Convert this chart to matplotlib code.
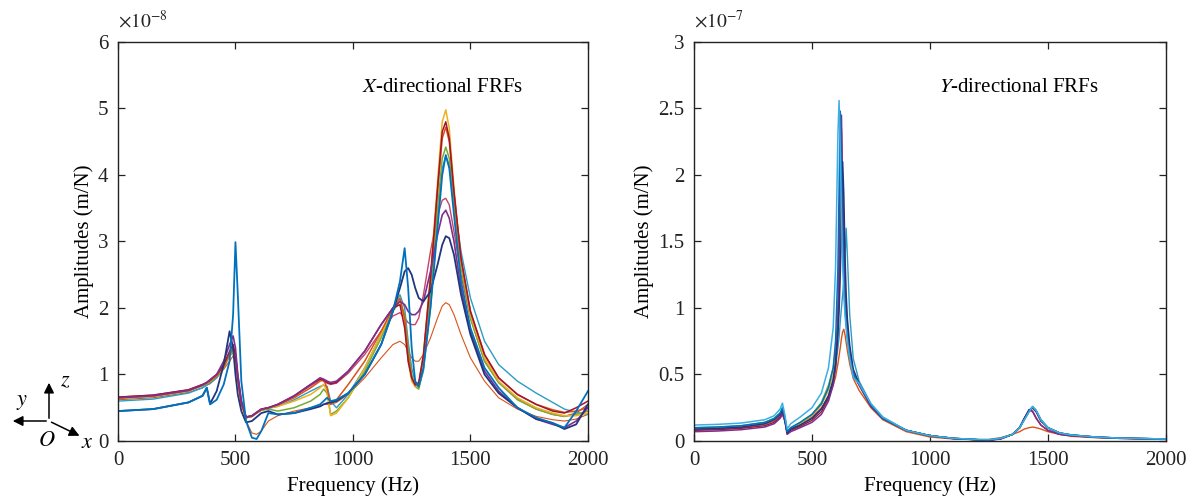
import matplotlib
matplotlib.use("Agg")
import matplotlib.pyplot as plt
from matplotlib.patches import FancyArrowPatch
from matplotlib.ticker import FuncFormatter

plt.rcParams["font.family"] = ["Liberation Serif", "DejaVu Serif"]
plt.rcParams["mathtext.fontset"] = "stix"

# ---------------- X-directional FRFs (values x 1e-8 m/N) ----------------
freq_x = [0, 150, 300, 360, 378, 392, 420, 450, 475, 490,
          500, 510, 525, 545, 570, 590, 610, 640, 680, 750,
          820, 860, 875, 890, 905, 930, 980, 1050, 1120, 1170,
          1200, 1220, 1235, 1250, 1265, 1280, 1300, 1330, 1360, 1380,
          1395, 1410, 1430, 1460, 1500, 1560, 1620, 1700, 1780, 1850,
          1900, 1950, 2000]

x_orange_thin = [0.62, 0.65, 0.73, 0.80, 0.84, 0.86, 0.95, 1.08, 1.20, 1.28,
                 1.20, 0.95, 0.60, 0.30, 0.12, 0.10, 0.15, 0.30, 0.38, 0.45,
                 0.50, 0.53, 0.55, 0.55, 0.55, 0.58, 0.70, 0.95, 1.25, 1.45,
                 1.50, 1.45, 1.35, 1.25, 1.20, 1.20, 1.30, 1.55, 1.85, 2.03,
                 2.08, 2.05, 1.90, 1.60, 1.25, 0.90, 0.65, 0.48, 0.37, 0.32,
                 0.30, 0.33, 0.40]
x_pink = [0.66, 0.69, 0.77, 0.85, 0.88, 0.92, 1.00, 1.13, 1.30, 1.40,
          1.30, 0.95, 0.58, 0.35, 0.37, 0.42, 0.47, 0.50, 0.55, 0.67,
          0.83, 0.92, 0.90, 0.87, 0.85, 0.87, 1.02, 1.30, 1.65, 1.88,
          1.93, 1.85, 1.78, 1.75, 1.75, 1.85, 2.20, 2.85, 3.40, 3.62,
          3.65, 3.55, 3.15, 2.50, 1.85, 1.20, 0.88, 0.63, 0.48, 0.40,
          0.37, 0.42, 0.55]
x_teal = [0.60, 0.63, 0.72, 0.80, 0.84, 0.87, 0.95, 1.10, 1.30, 1.40,
          1.30, 1.00, 0.62, 0.36, 0.38, 0.43, 0.47, 0.49, 0.52, 0.62,
          0.75, 0.82, 0.84, 0.82, 0.60, 0.50, 0.70, 1.10, 1.60, 2.00,
          2.20, 2.00, 1.50, 1.10, 0.88, 0.80, 1.05, 2.00, 3.30, 4.10,
          4.28, 4.15, 3.60, 2.85, 2.15, 1.50, 1.15, 0.90, 0.72, 0.58,
          0.48, 0.43, 0.40]
x_green = [0.64, 0.67, 0.75, 0.83, 0.86, 0.89, 0.97, 1.10, 1.28, 1.33,
           1.20, 0.90, 0.55, 0.35, 0.37, 0.42, 0.46, 0.48, 0.45, 0.50,
           0.60, 0.70, 0.78, 0.72, 0.40, 0.45, 0.65, 1.05, 1.55, 1.95,
           2.10, 1.90, 1.40, 1.00, 0.82, 0.78, 1.10, 2.20, 3.50, 4.25,
           4.42, 4.25, 3.55, 2.60, 1.85, 1.20, 0.88, 0.62, 0.48, 0.40,
           0.37, 0.40, 0.45]
x_yellow = [0.65, 0.68, 0.76, 0.84, 0.87, 0.90, 0.98, 1.12, 1.30, 1.35,
            1.20, 0.90, 0.55, 0.35, 0.37, 0.42, 0.47, 0.50, 0.52, 0.60,
            0.70, 0.80, 0.85, 0.75, 0.38, 0.42, 0.65, 1.10, 1.60, 2.00,
            2.15, 1.80, 1.20, 0.90, 0.82, 0.85, 1.30, 2.50, 3.90, 4.80,
            4.98, 4.70, 3.80, 2.70, 1.90, 1.25, 0.90, 0.65, 0.50, 0.42,
            0.38, 0.38, 0.42]
x_orange = [0.65, 0.68, 0.76, 0.84, 0.87, 0.90, 0.98, 1.12, 1.30, 1.38,
            1.25, 0.92, 0.56, 0.35, 0.37, 0.42, 0.47, 0.50, 0.54, 0.65,
            0.80, 0.90, 0.92, 0.80, 0.55, 0.62, 0.85, 1.20, 1.65, 2.00,
            2.15, 1.85, 1.30, 0.95, 0.83, 0.86, 1.25, 2.40, 3.75, 4.55,
            4.72, 4.50, 3.72, 2.72, 1.95, 1.30, 0.95, 0.70, 0.55, 0.47,
            0.43, 0.45, 0.50]
x_red = [0.66, 0.69, 0.77, 0.85, 0.88, 0.92, 1.00, 1.15, 1.35, 1.45,
         1.30, 0.95, 0.58, 0.36, 0.38, 0.43, 0.48, 0.50, 0.55, 0.68,
         0.85, 0.93, 0.92, 0.88, 0.86, 0.88, 1.05, 1.35, 1.75, 2.00,
         2.05, 1.70, 1.20, 0.95, 0.85, 0.88, 1.30, 2.45, 3.80, 4.65,
         4.80, 4.55, 3.75, 2.75, 1.95, 1.30, 0.95, 0.70, 0.55, 0.45,
         0.42, 0.50, 0.60]
x_purple = [0.65, 0.68, 0.76, 0.84, 0.88, 0.92, 1.00, 1.20, 1.45, 1.58,
            1.40, 1.00, 0.60, 0.36, 0.38, 0.43, 0.48, 0.50, 0.55, 0.68,
            0.85, 0.95, 0.93, 0.90, 0.88, 0.90, 1.05, 1.35, 1.75, 2.00,
            2.10, 2.05, 1.95, 1.90, 1.90, 1.95, 2.10, 2.55, 3.10, 3.40,
            3.47, 3.35, 3.00, 2.30, 1.65, 1.05, 0.75, 0.50, 0.33, 0.25,
            0.20, 0.30, 0.50]
x_navy = [0.45, 0.48, 0.58, 0.68, 0.80, 0.56, 0.75, 1.15, 1.65, 1.40,
          1.00, 0.70, 0.45, 0.28, 0.30, 0.36, 0.42, 0.45, 0.40, 0.42,
          0.48, 0.52, 0.55, 0.57, 0.58, 0.60, 0.72, 1.00, 1.45, 1.95,
          2.30, 2.55, 2.60, 2.50, 2.30, 2.15, 2.10, 2.25, 2.65, 2.95,
          3.08, 3.05, 2.80, 2.20, 1.60, 1.00, 0.72, 0.50, 0.33, 0.27,
          0.18, 0.25, 0.55]
x_blue = [0.45, 0.48, 0.58, 0.68, 0.80, 0.55, 0.62, 0.85, 1.20, 1.90,
          2.99, 2.20, 0.90, 0.30, 0.05, 0.03, 0.15, 0.42, 0.40, 0.42,
          0.50, 0.55, 0.60, 0.65, 0.60, 0.62, 0.72, 1.00, 1.45, 1.95,
          2.40, 2.90, 2.30, 1.40, 0.90, 0.82, 1.10, 2.00, 3.20, 4.00,
          4.30, 4.10, 3.40, 2.40, 1.70, 1.10, 0.80, 0.50, 0.35, 0.27,
          0.20, 0.45, 0.75]

# ---------------- Y-directional FRFs (values x 1e-7 m/N) ----------------
freq_y = [0, 100, 200, 300, 340, 365, 375, 385, 395, 410,
          450, 500, 540, 570, 590, 600, 610, 615, 620, 625,
          630, 635, 640, 645, 650, 660, 675, 700, 750, 800,
          900, 1000, 1100, 1200, 1250, 1300, 1350, 1380, 1400, 1420,
          1435, 1450, 1470, 1500, 1550, 1600, 1700, 1800, 2000]

y_orange = [0.085, 0.09, 0.10, 0.125, 0.15, 0.19, 0.22, 0.16, 0.06, 0.09,
            0.13, 0.18, 0.25, 0.33, 0.42, 0.48, 0.58, 0.64, 0.70, 0.77,
            0.82, 0.84, 0.80, 0.74, 0.68, 0.58, 0.47, 0.38, 0.25, 0.16,
            0.07, 0.03, 0.015, 0.01, 0.012, 0.025, 0.05, 0.07, 0.09, 0.10,
            0.105, 0.10, 0.09, 0.07, 0.05, 0.035, 0.025, 0.02, 0.013]
y_teal = [0.09, 0.095, 0.105, 0.13, 0.16, 0.20, 0.23, 0.17, 0.06, 0.09,
          0.12, 0.17, 0.24, 0.34, 0.45, 0.55, 0.70, 0.78, 0.90, 1.00,
          1.10, 1.20, 1.35, 1.60, 1.40, 0.95, 0.62, 0.45, 0.28, 0.18,
          0.08, 0.04, 0.02, 0.01, 0.007, 0.018, 0.05, 0.10, 0.17, 0.23,
          0.26, 0.23, 0.16, 0.10, 0.06, 0.045, 0.03, 0.022, 0.015]
y_yellow = [0.095, 0.10, 0.11, 0.135, 0.165, 0.205, 0.24, 0.175, 0.065, 0.095,
            0.13, 0.19, 0.27, 0.38, 0.50, 0.62, 0.85, 1.05, 1.35, 1.70,
            1.95, 1.60, 1.25, 1.02, 0.88, 0.68, 0.52, 0.43, 0.27, 0.17,
            0.08, 0.04, 0.02, 0.01, 0.008, 0.02, 0.05, 0.10, 0.16, 0.22,
            0.245, 0.22, 0.15, 0.10, 0.06, 0.045, 0.03, 0.022, 0.015]
y_green = [0.10, 0.105, 0.115, 0.14, 0.17, 0.21, 0.245, 0.18, 0.07, 0.10,
           0.14, 0.20, 0.29, 0.42, 0.55, 0.68, 0.95, 1.20, 1.55, 1.90,
           1.75, 1.38, 1.12, 0.96, 0.85, 0.68, 0.52, 0.43, 0.27, 0.17,
           0.08, 0.04, 0.02, 0.01, 0.008, 0.02, 0.05, 0.10, 0.165, 0.225,
           0.25, 0.225, 0.155, 0.10, 0.06, 0.045, 0.03, 0.022, 0.015]
y_red = [0.08, 0.085, 0.095, 0.115, 0.14, 0.18, 0.21, 0.155, 0.055, 0.08,
         0.11, 0.155, 0.22, 0.32, 0.45, 0.58, 0.90, 1.35, 1.95, 2.35,
         1.85, 1.40, 1.12, 0.95, 0.82, 0.66, 0.50, 0.42, 0.26, 0.17,
         0.08, 0.04, 0.018, 0.01, 0.006, 0.016, 0.05, 0.10, 0.17, 0.235,
         0.225, 0.175, 0.12, 0.08, 0.05, 0.04, 0.028, 0.02, 0.013]
y_purple = [0.07, 0.075, 0.085, 0.105, 0.13, 0.17, 0.20, 0.15, 0.05, 0.07,
            0.10, 0.14, 0.20, 0.30, 0.42, 0.55, 0.85, 1.30, 2.20, 2.45,
            1.90, 1.40, 1.10, 0.92, 0.80, 0.65, 0.50, 0.42, 0.26, 0.17,
            0.08, 0.04, 0.018, 0.01, 0.006, 0.015, 0.05, 0.10, 0.17, 0.235,
            0.22, 0.17, 0.12, 0.08, 0.05, 0.04, 0.028, 0.02, 0.013]
y_navy = [0.09, 0.095, 0.105, 0.13, 0.16, 0.20, 0.23, 0.17, 0.06, 0.09,
          0.12, 0.17, 0.24, 0.34, 0.46, 0.58, 0.80, 0.98, 1.25, 1.65,
          2.10, 1.85, 1.40, 1.10, 0.92, 0.72, 0.54, 0.43, 0.27, 0.17,
          0.08, 0.04, 0.02, 0.01, 0.007, 0.018, 0.05, 0.10, 0.17, 0.23,
          0.25, 0.22, 0.15, 0.10, 0.06, 0.045, 0.03, 0.022, 0.015]
y_blue = [0.10, 0.105, 0.115, 0.14, 0.17, 0.21, 0.25, 0.18, 0.07, 0.10,
          0.14, 0.20, 0.28, 0.40, 0.55, 0.75, 1.30, 1.90, 2.48, 2.00,
          1.50, 1.20, 1.00, 0.88, 0.78, 0.64, 0.50, 0.43, 0.27, 0.17,
          0.08, 0.04, 0.02, 0.01, 0.008, 0.02, 0.05, 0.10, 0.16, 0.22,
          0.255, 0.23, 0.16, 0.10, 0.06, 0.045, 0.03, 0.022, 0.015]
y_cyan = [0.12, 0.125, 0.135, 0.16, 0.19, 0.24, 0.285, 0.20, 0.09, 0.13,
          0.18, 0.25, 0.36, 0.55, 0.85, 1.30, 2.30, 2.56, 2.20, 1.70,
          1.35, 1.10, 0.95, 0.85, 0.75, 0.62, 0.48, 0.43, 0.28, 0.18,
          0.08, 0.04, 0.02, 0.012, 0.01, 0.02, 0.05, 0.10, 0.16, 0.22,
          0.26, 0.23, 0.16, 0.10, 0.06, 0.045, 0.03, 0.022, 0.015]

C_BLUE = "#0072BD"
C_ORANGE = "#D95319"
C_YELLOW = "#EDB120"
C_PURPLE = "#7E2F8E"
C_GREEN = "#77AC30"
C_CYAN = "#3DAEE4"
C_RED = "#A2142F"
C_NAVY = "#22357F"
C_PINK = "#C4456B"
C_TEAL = "#2B9CC4"

fig = plt.figure(figsize=(11.94, 5.04), dpi=100)
ax1 = fig.add_axes([0.0988, 0.125, 0.3936, 0.7917])
ax2 = fig.add_axes([0.5812, 0.125, 0.3953, 0.7917])

left_curves = [
    (x_orange_thin, C_ORANGE, 0.8),
    (x_pink, C_PINK, 1.0),
    (x_teal, C_TEAL, 1.0),
    (x_green, C_GREEN, 1.1),
    (x_yellow, C_YELLOW, 1.1),
    (x_orange, C_ORANGE, 1.1),
    (x_red, C_RED, 1.1),
    (x_purple, C_PURPLE, 1.2),
    (x_navy, C_NAVY, 1.3),
    (x_blue, C_BLUE, 1.3),
]
for vals, col, lw in left_curves:
    ax1.plot(freq_x, vals, color=col, lw=lw)

right_curves = [
    (y_orange, C_ORANGE, 1.0),
    (y_teal, C_TEAL, 1.0),
    (y_yellow, C_YELLOW, 1.0),
    (y_green, C_GREEN, 1.0),
    (y_red, C_RED, 1.0),
    (y_purple, C_PURPLE, 1.1),
    (y_navy, C_NAVY, 1.1),
    (y_blue, C_BLUE, 1.1),
    (y_cyan, C_CYAN, 1.1),
]
for vals, col, lw in right_curves:
    ax2.plot(freq_y, vals, color=col, lw=lw)

panels = [(ax1, 6, 1, -8, r"$\it{X}$-directional FRFs"),
          (ax2, 3, 0.5, -7, r"$\it{Y}$-directional FRFs")]
for ax, ymax, step, expo, label in panels:
    ax.set_xlim(0, 2000)
    ax.set_ylim(0, ymax)
    ax.set_xticks([0, 500, 1000, 1500, 2000])
    ax.set_yticks([i * step for i in range(7)])
    ax.yaxis.set_major_formatter(FuncFormatter(lambda v, p: "%g" % v))
    ax.tick_params(direction="in", top=True, right=True, length=5,
                   labelsize=15, width=0.9, pad=7, colors="#222222")
    for s in ax.spines.values():
        s.set_linewidth(1.0)
        s.set_color("#222222")
    ax.set_xlabel("Frequency (Hz)", fontsize=15, labelpad=5)
    ax.set_ylabel("Amplitudes (m/N)", fontsize=15, labelpad=3)
    ax.text(0.52, 0.885, label, transform=ax.transAxes, fontsize=15,
            ha="left", va="center")
    # exponent shown above the y axis, MATLAB style
    ax.text(0.0, 1.025, r"$\times10^{%d}$" % expo, transform=ax.transAxes,
            fontsize=14, ha="left", va="bottom", color="#222222")


# little coordinate system in the bottom-left corner
def fpos(px, py):
    return (px / 1194, 1 - py / 504)


origin = fpos(49, 421)
for tip in [fpos(49, 380), fpos(10, 421), fpos(82, 437)]:
    fig.add_artist(FancyArrowPatch(
        origin, tip, transform=fig.transFigure, arrowstyle="-|>",
        mutation_scale=15, color="black", lw=1.1))
for txt, (px, py) in [("z", (65, 382)), ("y", (22, 403)), ("O", (47, 442)), ("x", (87, 443))]:
    x, y = fpos(px, py)
    fig.text(x, y, r"$\it{%s}$" % txt, fontsize=16, ha="center", va="center")

fig.savefig("out.png", dpi=100)
